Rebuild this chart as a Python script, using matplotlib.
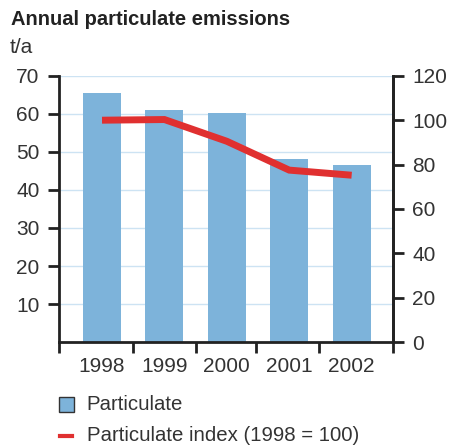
import matplotlib
matplotlib.use("Agg")
import matplotlib.pyplot as plt
from matplotlib.patches import Rectangle
from matplotlib.lines import Line2D

years = ["1998", "1999", "2000", "2001", "2002"]
particulate = [65.5, 61.0, 60.2, 48.2, 46.6]
index = [100.0, 100.3, 90.5, 77.5, 75.2]
left_ticks = [10, 20, 30, 40, 50, 60, 70]
right_ticks = [0, 20, 40, 60, 80, 100, 120]
legend_labels = ["Particulate", "Particulate index (1998 = 100)"]

plt.rcParams['font.family'] = ['Liberation Sans', 'DejaVu Sans']
txt = '#333333'
spine = '#222222'
bar_c = '#7db3da'
line_c = '#e03030'
grid_c = '#cde3f3'
fs = 15

fig = plt.figure(figsize=(4.5, 4.46), dpi=100)
ax = fig.add_axes([0.131, 0.233, 0.742, 0.597])
x = list(range(len(years)))
ax.set_xlim(-0.69, 4.66)
ax.set_ylim(0, 70)
for v in left_ticks:
    ax.axhline(v, color=grid_c, lw=1.0, zorder=0)
ax.bar(x, particulate, width=0.61, color=bar_c, zorder=2)
ax.set_yticks(left_ticks)
ax.set_yticklabels([str(v) for v in left_ticks])
ax.set_xticks(x)
ax.set_xticklabels(years)
ax.tick_params(axis='x', length=0, pad=11, labelsize=fs, colors=txt)
ax.tick_params(axis='y', direction='out', length=8, width=2, color=spine, labelsize=fs, labelcolor=txt, pad=6)
ax.set_xticks([-0.69, 0.5, 1.5, 2.47, 3.47, 4.66], minor=True)
ax.tick_params(axis='x', which='minor', direction='out', length=8, width=2, color=spine)
ax.spines['top'].set_visible(False)
for s in ['left', 'bottom', 'right']:
    ax.spines[s].set_color(spine)
    ax.spines[s].set_linewidth(2)

ax2 = ax.twinx()
ax2.set_ylim(0, 120)
ax2.plot(x, index, color=line_c, lw=5, solid_capstyle='butt', solid_joinstyle='miter', zorder=3)
ax2.set_yticks(right_ticks)
ax2.tick_params(axis='y', direction='out', length=8, width=2, color=spine, labelsize=fs, labelcolor=txt, pad=6)
for s in ['top', 'left', 'bottom']:
    ax2.spines[s].set_visible(False)
ax2.spines['right'].set_color(spine)
ax2.spines['right'].set_linewidth(2)

fig.text(0.025, 0.957, "Annual particulate emissions", fontsize=14.5, fontweight='bold', color='#222222', va='center')
fig.text(0.022, 0.893, "t/a", fontsize=fs, color=txt, va='center')

# legend drawn manually
fig.add_artist(Rectangle((0.131, 0.076), 0.033, 0.034, transform=fig.transFigure,
                         facecolor=bar_c, edgecolor='#333333', linewidth=1))
fig.text(0.193, 0.092, legend_labels[0], fontsize=14.7, color=txt, va='center')
fig.add_artist(Line2D([0.133, 0.160], [0.023, 0.023], transform=fig.transFigure,
                      color=line_c, lw=3))
fig.text(0.193, 0.023, legend_labels[1], fontsize=14.7, color=txt, va='center')

fig.savefig("out.png", dpi=100)
